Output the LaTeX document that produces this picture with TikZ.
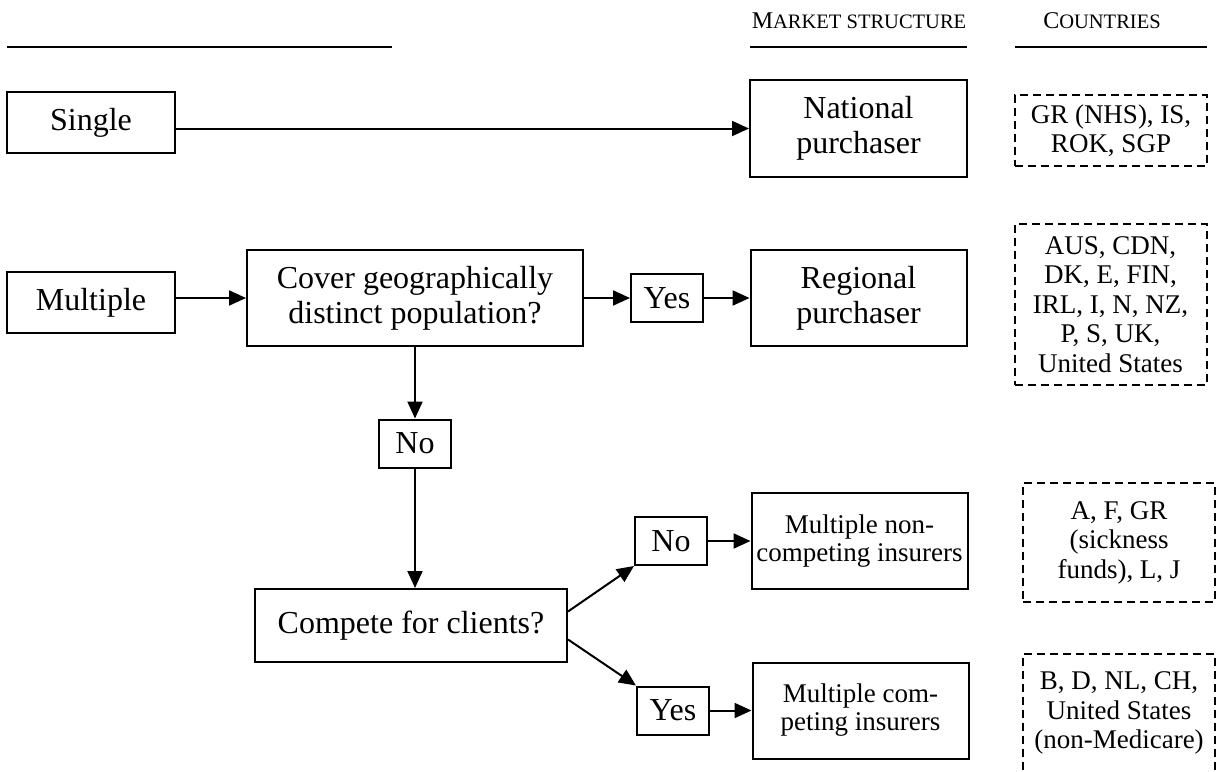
\documentclass[tikz,border=0pt]{standalone}
\usepackage{fontspec}
\setmainfont{Liberation Serif}
\usetikzlibrary{positioning,arrows.meta}

\newcommand{\capsc}[2]{{\fontsize{24}{24}\selectfont #1}{\fontsize{20.5}{20.5}\selectfont #2}}

\begin{document}
\begin{tikzpicture}[x=1pt,y=-1pt,on grid,line width=2pt,
  >={Triangle[length=17pt,width=15pt]},
  box/.style={draw,rectangle,inner sep=0pt,align=center,font=\fontsize{32}{35}\selectfont},
  ans/.style={box,minimum width=72pt,minimum height=48pt},
  ins/.style={box,minimum width=216pt,minimum height=96pt,font=\fontsize{27}{28}\selectfont},
  country/.style={draw,dash pattern=on 8pt off 5pt,inner sep=0pt,align=center,minimum width=192pt,font=\fontsize{27}{29.5}\selectfont},
  head/.style={anchor=base}]
   \clip (0,0) rectangle (1217,771);
   % column heads
   \node[head] (hdMarket) at (859,28) {\capsc{M}{ARKET STRUCTURE}};
   \node[head] (hdCountries) at (1102,28) {\capsc{C}{OUNTRIES}};
   \draw (7,47) -- (392,47);
   \draw (750,47) -- (967,47);
   \draw (1015,47) -- (1207,47);

   \node[box,minimum width=168pt,minimum height=61pt] (single) at (91,122.5) {Single};
   \node[box,minimum width=217pt,minimum height=97pt] (national) [below right=6pt and 767.5pt of single] {National\\purchaser};
   \node[country,minimum height=71pt] (cntA) [below right=2pt and 252.5pt of national] {GR (NHS), IS,\\ROK, SGP};

   \node[box,minimum width=168pt,minimum height=61pt] (multiple) [below=180pt of single] {Multiple};
   \node[box,minimum width=336pt,minimum height=96pt] (cover) [above right=4.5pt and 324pt of multiple] {Cover geographically\\distinct population?};
   \node[ans] (yesA) [right=252pt of cover] {Yes};
   \node[box,minimum width=216pt,minimum height=96pt] (regional) [right=191.5pt of yesA] {Regional\\purchaser};
   \node[country,minimum height=161pt] (cntB) [below right=6.5pt and 252pt of regional] {AUS, CDN,\\DK, E, FIN,\\IRL, I, N, NZ,\\P, S, UK,\\United States};

   \node[ans] (noA) [below=145.5pt of cover] {No};
   \node[box,minimum width=312pt,minimum height=73pt] (compete) [below left=182pt and 4pt of noA] {Compete for clients?};
   \node[ans] (noB) [above right=84.5pt and 260pt of compete] {No};
   \node[ans] (yesB) [below right=85pt and 262pt of compete] {Yes};
   \node[ins] (noncomp) [right=188.5pt of noB] {Multiple non-\\competing insurers};
   \node[ins] (comp) [right=187.5pt of yesB] {Multiple com-\\peting insurers};
   \node[country,minimum height=119pt] (cntC) [below right=1.5pt and 259.5pt of noncomp] {A, F, GR\\(sickness\\funds), L, J};
   \node[country,minimum height=119pt] (cntD) [below right=2.5pt and 258.5pt of comp] {B, D, NL, CH,\\United States\\(non-Medicare)};

   % arrows
   \draw[->] (single.east |- national) -- (national);
   \draw[->] (multiple.east |- cover) -- (cover);
   \draw[->] (cover) -- (yesA);
   \draw[->] (yesA) -- (regional);
   \draw[->] (cover) -- (noA);
   \draw[->] (noA.south) -- (noA.south |- compete.north);
   \draw[->] ([yshift=14pt]compete.east) -- (noB.south west);
   \draw[->] ([yshift=-14pt]compete.east) -- (yesB.north west);
   \draw[->] (noB) -- (noncomp);
   \draw[->] (yesB) -- (comp);
\end{tikzpicture}
\end{document}
